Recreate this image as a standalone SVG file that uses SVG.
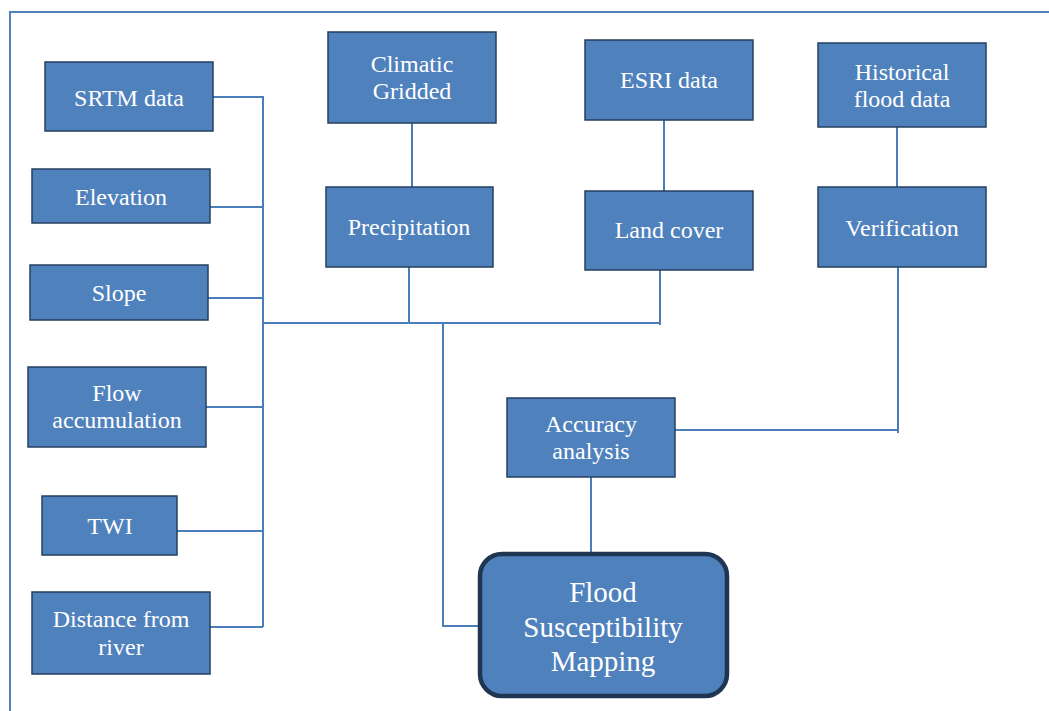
<svg xmlns="http://www.w3.org/2000/svg" width="1049" height="711" viewBox="0 0 1049 711">
<style>
.box{fill:#4f81bd;stroke:#24405f;stroke-width:1.5}
.main{fill:#4f81bd;stroke:#1f3552;stroke-width:4.5}
.t{font-family:"Liberation Serif","Times New Roman",serif;font-size:24px;fill:#fff;text-anchor:middle}
.tb{font-family:"Liberation Serif","Times New Roman",serif;font-size:29px;fill:#fff;text-anchor:middle}
.c{fill:none;stroke:#4a7ebb;stroke-width:2}
</style>
<rect width="1049" height="711" fill="#fff"/>
<path d="M10,711 V12 H1049" fill="none" stroke="#4f81bd" stroke-width="2"/>
<g id="connectors">
<path class="c" d="M213,97 H263 M210,207 H263 M208,298 H263 M206,407 H263 M177,531 H263 M210,627 H263 M263,96 V627"/>
<path class="c" d="M263,323 H660 M409,267 V323 M660,270 V325 M412,123 V187 M664,120 V191"/>
<path class="c" d="M443,323 V626 H479"/>
<path class="c" d="M897,127 V187 M898,267 V433 M675,430 H898"/>
<path class="c" d="M591,477 V553"/>
</g>
<g id="srtm"><rect class="box" x="45" y="62" width="168" height="69"/><text class="t" x="129" y="106">SRTM data</text></g>
<g id="elevation"><rect class="box" x="32" y="169" width="178" height="54"/><text class="t" x="121" y="205">Elevation</text></g>
<g id="slope"><rect class="box" x="30" y="265" width="178" height="55"/><text class="t" x="119" y="301">Slope</text></g>
<g id="flow"><rect class="box" x="28" y="367" width="178" height="80"/><text class="t" x="117" y="401">Flow</text><text class="t" x="117" y="428">accumulation</text></g>
<g id="twi"><rect class="box" x="42" y="496" width="135" height="59"/><text class="t" x="110" y="534">TWI</text></g>
<g id="distance"><rect class="box" x="32" y="592" width="178" height="82"/><text class="t" x="121" y="627">Distance from</text><text class="t" x="121" y="655">river</text></g>
<g id="climatic"><rect class="box" x="328" y="32" width="168" height="91"/><text class="t" x="412" y="72">Climatic</text><text class="t" x="412" y="99">Gridded</text></g>
<g id="precipitation"><rect class="box" x="326" y="187" width="167" height="80"/><text class="t" x="409" y="235">Precipitation</text></g>
<g id="esri"><rect class="box" x="585" y="40" width="168" height="80"/><text class="t" x="669" y="88">ESRI data</text></g>
<g id="landcover"><rect class="box" x="585" y="191" width="168" height="79"/><text class="t" x="669" y="238">Land cover</text></g>
<g id="historical"><rect class="box" x="818" y="43" width="168" height="84"/><text class="t" x="902" y="80">Historical</text><text class="t" x="902" y="107">flood data</text></g>
<g id="verification"><rect class="box" x="818" y="187" width="168" height="80"/><text class="t" x="902" y="236">Verification</text></g>
<g id="accuracy"><rect class="box" x="507" y="398" width="168" height="79"/><text class="t" x="591" y="432">Accuracy</text><text class="t" x="591" y="459">analysis</text></g>
<g id="fsm"><rect class="main" x="480" y="554" width="247" height="142" rx="22"/><text class="tb" x="603" y="602">Flood</text><text class="tb" x="603" y="637">Susceptibility</text><text class="tb" x="603" y="671">Mapping</text></g>
</svg>
